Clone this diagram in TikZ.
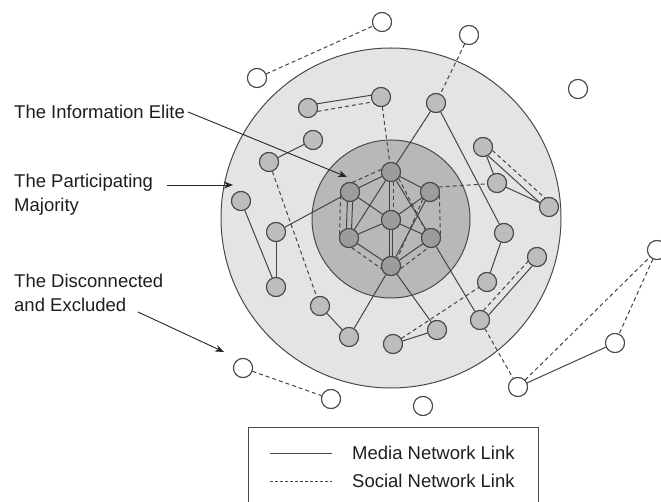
\documentclass[tikz,border=0pt]{standalone}
\usepackage{fontspec}
\setmainfont{Liberation Sans}
\usetikzlibrary{arrows.meta}
\definecolor{linec}{HTML}{454545}
\definecolor{ringc}{HTML}{4A4A4A}
\definecolor{outerfill}{HTML}{E4E4E4}
\definecolor{innerfill}{HTML}{B8B8B8}
\definecolor{memberfill}{HTML}{BDBDBD}
\definecolor{corefill}{HTML}{9C9C9C}
\definecolor{textc}{HTML}{1E1E1E}
\begin{document}
\begin{tikzpicture}[x=1pt,y=-1pt,
  media/.style={draw=linec, line width=1pt},
  social/.style={draw=linec, line width=1pt, dash pattern=on 4pt off 3pt},
  netnode/.style={circle, draw=linec, line width=1pt, minimum size=19pt, inner sep=0pt},
  core/.style={netnode, fill=corefill},
  member/.style={netnode, fill=memberfill},
  outsider/.style={netnode, fill=white},
  ring/.style={circle, draw=ringc, line width=1pt, inner sep=0pt},
  label/.style={font=\fontsize{18.5}{23.5}\selectfont, text=textc, align=left, inner sep=0pt},
  pointer/.style={draw=black!85, line width=0.9pt, -{Stealth[length=9pt,width=7pt]}}
]
\useasboundingbox (0,0) rectangle (661,502);

% the two nested regions
\node[ring, fill=outerfill, minimum size=340pt] (majority) at (391,218) {};
\node[ring, fill=innerfill, minimum size=158pt] (elite) at (391,219) {};

% core nodes (information elite)
\node[core] (T)  at (391,172) {};
\node[core] (UL) at (350,192) {};
\node[core] (UR) at (430,192) {};
\node[core] (Cc) at (391,220) {};
\node[core] (LL) at (349,238) {};
\node[core] (LR) at (431,238) {};
\node[core] (Bt) at (391,266) {};

% participating majority
\node[member] (A) at (308,108) {};
\node[member] (B) at (381,97) {};
\node[member] (C) at (436,103) {};
\node[member] (D) at (313,140) {};
\node[member] (E) at (269,162) {};
\node[member] (F) at (241,201) {};
\node[member] (G) at (276,232) {};
\node[member] (H) at (276,287) {};
\node[member] (I) at (320,306) {};
\node[member] (J) at (349,337) {};
\node[member] (K) at (393,344) {};
\node[member] (L) at (437,330) {};
\node[member] (M) at (480,320) {};
\node[member] (N) at (487,282) {};
\node[member] (O) at (504,233) {};
\node[member] (P) at (537,257) {};
\node[member] (Q) at (497,183) {};
\node[member] (R) at (483,147) {};
\node[member] (S) at (549,207) {};

% disconnected and excluded
\node[outsider] (W1) at (257,78) {};
\node[outsider] (W2) at (382,22) {};
\node[outsider] (W3) at (469,35) {};
\node[outsider] (W4) at (578,89) {};
\node[outsider] (W5) at (657,250) {};
\node[outsider] (W6) at (615,343) {};
\node[outsider] (W7) at (518,387) {};
\node[outsider] (W8) at (243,368) {};
\node[outsider] (W9) at (331,399) {};
\node[outsider] (W10) at (423,406) {};

% links inside the core
\draw[media] (T) -- (UL);
\draw[social] (T.165) -- (UL.75);
\draw[media] (UL.-75) -- (LL.75);
\draw[media] (UL.-105) -- (LL.105);
\draw[social] (UL.200) -- (LL.160);
\draw[media] (LL) -- (Bt);
\draw[social] (LL.-75) -- (Bt.195);
\draw[media] (Bt) -- (LR);
\draw[social] (Bt.-15) -- (LR.-105);
\draw[social] (UR.-20) -- (LR.20);
\draw[media] (T) -- (UR);
\draw[media] (T) -- (LL);
\draw[media] (T) -- (LR);
\draw[social] (T.-40) -- (LR.125);
\draw[media] (UL) -- (Cc);
\draw[media] (Cc) -- (UR);
\draw[media] (LL) -- (Cc);
\draw[media] (Cc) -- (LR);
\draw[media] (UR) -- (Bt);
\draw[social] (UR.-135) -- (Bt.50);
\draw[media] (T.-100) -- (Cc.100);
\draw[social] (T.-75) -- (Cc.75);
\draw[media] (Cc.-80) -- (Bt.80);
\draw[media] (Cc.-100) -- (Bt.100);

% links of the majority
\draw[media] (A.25) -- (B.170);
\draw[social] (A.-20) -- (B.210);
\draw[social] (B) -- (T);
\draw[social] (W3) -- (C);
\draw[media] (C) -- (T);
\draw[media] (C) -- (O);
\draw[media] (D) -- (E);
\draw[social] (E) -- (I);
\draw[media] (F) -- (H);
\draw[media] (G) -- (H);
\draw[media] (G) -- (UL);
\draw[media] (I) -- (J);
\draw[media] (Bt) -- (J);
\draw[media] (Bt) -- (L);
\draw[media] (K) -- (L);
\draw[social] (K) -- (N);
\draw[media] (LR) -- (M);
\draw[media] (O) -- (N);
\draw[media] (M.30) -- (P.242);
\draw[social] (M.70) -- (P.206);
\draw[social] (UR.30) -- (Q.185);
\draw[media] (R) -- (Q);
\draw[media] (Q) -- (S);
\draw[media] (R.-60) -- (S.155);
\draw[social] (R.-20) -- (S.115);

% links of the excluded
\draw[social] (W1) -- (W2);
\draw[social] (M) -- (W7);
\draw[social] (W7) -- (W5);
\draw[social] (W5) -- (W6);
\draw[media] (W6) -- (W7);
\draw[social] (W8) -- (W9);

% redraw nodes above the links
\foreach \n in {T,UL,UR,Cc,LL,LR,Bt}
  \node[core] at (\n) {};
\foreach \n in {A,B,C,D,E,F,G,H,I,J,K,L,M,N,O,P,Q,R,S}
  \node[member] at (\n) {};
\foreach \n in {W1,W2,W3,W4,W5,W6,W7,W8,W9,W10}
  \node[outsider] at (\n) {};

% labels with pointers
\node[label, anchor=west] (infoLbl) at (14,112) {The Information Elite};
\coordinate (infoTip) at (347,177);
\draw[pointer] (infoLbl.east) ++(3,0) -- (infoTip);

\node[label, anchor=north west] (partLbl) at (14,174) {The Participating\\Majority};
\coordinate (partStart) at (167,185);
\coordinate (partTip) at (233,185);
\draw[pointer] (partStart) -- (partTip);

\node[label, anchor=north west] (discLbl) at (14,274) {The Disconnected\\and Excluded};
\coordinate (discStart) at (138,312);
\coordinate (discTip) at (224,352);
\draw[pointer] (discStart) -- (discTip);

% legend
\node[draw=black!70, line width=0.9pt, minimum width=290pt, minimum height=90pt, anchor=north west, inner sep=0pt] (legend) at (248,427) {};
\coordinate (m1) at (270,453);
\coordinate (m2) at (332,453);
\coordinate (s1) at (270,481);
\coordinate (s2) at (332,481);
\draw[media] (m1) -- (m2);
\draw[social, dash pattern=on 3pt off 2pt] (s1) -- (s2);
\node[label, anchor=west] (mediaTxt) at (352,453) {Media Network Link};
\node[label, anchor=west] (socialTxt) at (352,481) {Social Network Link};
\end{tikzpicture}
\end{document}
